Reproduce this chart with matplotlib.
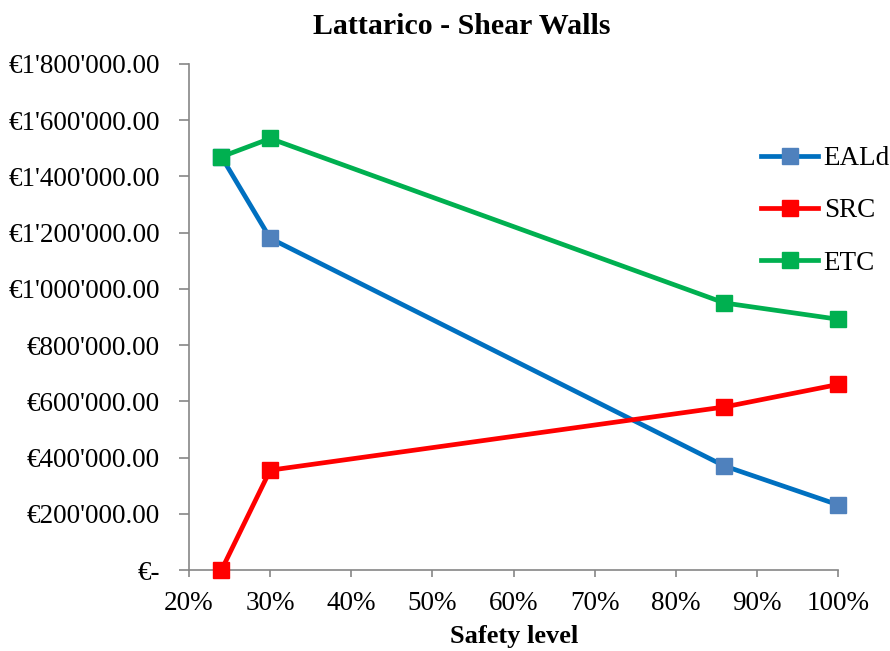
import matplotlib
matplotlib.use("Agg")
import matplotlib.pyplot as plt
from matplotlib.ticker import FuncFormatter, PercentFormatter

# Data
safety_level = [24, 30, 86, 100]
eald = [1470000, 1180000, 370000, 232000]
src = [0, 355000, 580000, 660000]
etc = [1470000, 1535000, 950000, 892000]

x_ticks = [20, 30, 40, 50, 60, 70, 80, 90, 100]
y_ticks = [0, 200000, 400000, 600000, 800000, 1000000, 1200000, 1400000, 1600000, 1800000]

plt.rcParams['font.family'] = ['Liberation Serif', 'DejaVu Serif']


def euro_fmt(v, pos):
    # Excel accounting style: zero shown as a dash
    if v == 0:
        return "€-"
    return "€" + f"{v:,.2f}".replace(",", "'")


fig = plt.figure(figsize=(8.9, 6.51), dpi=100)
ax = fig.add_axes([0.2124, 0.1244, 0.7292, 0.7773])

line_kw = dict(linewidth=3.4, marker="s", markersize=11, clip_on=False)
ax.plot(safety_level, eald, color="#0070C0", markerfacecolor="#4F81BD",
        markeredgecolor="#4F81BD", label="EALd", **line_kw)
ax.plot(safety_level, src, color="#FF0000", markerfacecolor="#FF0000",
        markeredgecolor="#FF0000", label="SRC", **line_kw)
ax.plot(safety_level, etc, color="#00B050", markerfacecolor="#00B050",
        markeredgecolor="#00B050", label="ETC", **line_kw)

ax.set_xlim(20, 100)
ax.set_ylim(0, 1800000)
ax.set_xticks(x_ticks)
ax.set_yticks(y_ticks)
ax.xaxis.set_major_formatter(PercentFormatter(decimals=0))
ax.yaxis.set_major_formatter(FuncFormatter(euro_fmt))

for side in ["top", "right"]:
    ax.spines[side].set_visible(False)
for side in ["left", "bottom"]:
    ax.spines[side].set_color("#868686")
    ax.spines[side].set_linewidth(1.2)
    ax.spines[side].set_zorder(0.5)

ax.tick_params(axis="both", direction="out", width=1.2,
               color="#868686", labelsize=19.5)
ax.tick_params(axis="x", length=5, pad=10)
ax.tick_params(axis="y", length=7, pad=14)

fig.text(462 / 890, 1 - 27 / 651, "Lattarico - Shear Walls", fontsize=21.5,
         fontweight="bold", ha="center", va="center")
fig.text(514 / 890, 1 - 637 / 651, "Safety level", fontsize=19,
         fontweight="bold", ha="center", va="center")

ax.legend(loc="center left", bbox_to_anchor=(0.882, 0.7095), frameon=False,
          fontsize=19.5, handlelength=2.1, handletextpad=0.2,
          labelspacing=1.0, borderpad=0, borderaxespad=0)

fig.savefig("out.png", dpi=100)
